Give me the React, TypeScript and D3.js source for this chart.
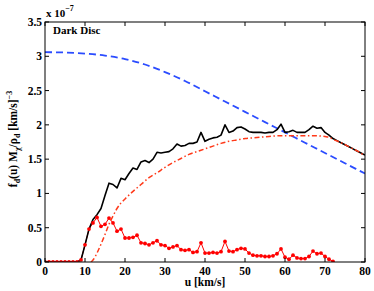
import React from 'react';
import * as d3 from 'd3';

// blue dashed curve, read every 5 km/s
const blueU = [0, 5, 10, 15, 20, 25, 30, 35, 40, 45, 50, 55, 60, 65, 70, 75, 80];
const blueF = [3.06, 3.055, 3.04, 3.01, 2.96, 2.88, 2.77, 2.64, 2.49, 2.34, 2.19, 2.04, 1.89, 1.74, 1.59, 1.44, 1.29];

// red dash-dot curve
const dashU = [11.5, 12, 13, 14, 15, 16, 17, 18, 19, 20, 22, 24, 26, 28, 30, 32, 34, 36, 38, 40, 42, 44, 46, 48, 50, 52, 54, 56, 58, 60, 62, 64, 66, 68, 70, 71, 72, 74, 76, 78, 80];
const dashF = [0, 0.03, 0.13, 0.26, 0.4, 0.55, 0.67, 0.78, 0.86, 0.92, 1.03, 1.13, 1.23, 1.3, 1.38, 1.45, 1.51, 1.57, 1.61, 1.65, 1.69, 1.73, 1.76, 1.78, 1.8, 1.81, 1.82, 1.83, 1.84, 1.84, 1.84, 1.84, 1.84, 1.84, 1.83, 1.82, 1.79, 1.74, 1.68, 1.62, 1.55];

// red dotted histogram, one value per km/s from 0
const redF = [0, 0, 0, 0, 0, 0, 0, 0, 0, 0.03, 0.25, 0.48, 0.57, 0.65, 0.52, 0.55, 0.64, 0.57, 0.45, 0.48,
  0.35, 0.35, 0.36, 0.39, 0.28, 0.27, 0.25, 0.28, 0.31, 0.25, 0.24, 0.2, 0.22, 0.24, 0.18, 0.17, 0.18, 0.14, 0.15, 0.28,
  0.13, 0.13, 0.14, 0.13, 0.15, 0.3, 0.16, 0.15, 0.18, 0.2, 0.19, 0.13, 0.1, 0.09, 0.09, 0.08, 0.08, 0.09, 0.12, 0.19,
  0.07, 0.04, 0.1, 0.06, 0.05, 0.05, 0.08, 0.16, 0.12, 0.13, 0.08, 0.04, 0.01];

// black total, one value per km/s from 0
const blackF = [0, 0, 0, 0, 0, 0, 0, 0, 0, 0.03, 0.25, 0.48, 0.62, 0.69, 0.78, 0.97, 1.15, 1.13, 1.08, 1.22,
  1.2, 1.29, 1.37, 1.35, 1.46, 1.48, 1.45, 1.5, 1.6, 1.59, 1.6, 1.61, 1.65, 1.72, 1.69, 1.7, 1.73, 1.73, 1.75, 1.89,
  1.76, 1.79, 1.81, 1.82, 1.85, 2.0, 1.89, 1.91, 1.96, 1.97, 1.94, 1.9, 1.89, 1.89, 1.89, 1.88, 1.89, 1.89, 1.93, 2.01,
  1.89, 1.9, 1.92, 1.89, 1.89, 1.89, 1.93, 1.98, 1.95, 1.96, 1.89, 1.85, 1.8, 1.77, 1.74, 1.71, 1.68, 1.65, 1.62, 1.59, 1.56];

const xTicks = [0, 10, 20, 30, 40, 50, 60, 70, 80];
const yTicks = [0, 0.5, 1, 1.5, 2, 2.5, 3, 3.5];
const yTickLabels = ['0', '0.5', '1', '1.5', '2', '2.5', '3', '3.5'];

const W = 374;
const H = 291;
const left = 45, right = 365, top = 22, bottom = 262;
const font = '"Liberation Serif", "Times New Roman", serif';

export default function App() {
  const x = d3.scaleLinear().domain([0, 80]).range([left, right]);
  const y = d3.scaleLinear().domain([0, 3.5]).range([bottom, top]);

  const pts = (us: number[], fs: number[]) => us.map((u, i) => [u, fs[i]] as [number, number]);
  const byIndex = (fs: number[]) => fs.map((f, i) => [i, f] as [number, number]);

  const smooth = d3.line<[number, number]>().x(d => x(d[0])).y(d => y(d[1])).curve(d3.curveMonotoneX);
  const straight = d3.line<[number, number]>().x(d => x(d[0])).y(d => y(d[1]));

  const red = byIndex(redF);
  const black = byIndex(blackF);

  return (
    <svg width={W} height={H} style={{ position: 'absolute', left: 0, top: 0, background: '#fff' }} fontFamily={font} fontWeight="bold">
      <rect x={0} y={0} width={W} height={H} fill="#fff" />
      <defs>
        <clipPath id="plot">
          <rect x={left} y={top} width={right - left} height={bottom - top} />
        </clipPath>
      </defs>

      <g clipPath="url(#plot)">
        <path d={smooth(pts(blueU, blueF)) || ''} fill="none" stroke="#2b4cff" strokeWidth={1.8} strokeDasharray="7,4" />
        <path d={straight(red) || ''} fill="none" stroke="#ff0000" strokeWidth={1} />
        <path d={straight(black) || ''} fill="none" stroke="#000" strokeWidth={1.6} strokeLinejoin="round" />
        {red.map((d, i) => (
          <circle key={i} cx={x(d[0])} cy={y(d[1])} r={1.9} fill="#ff0000" />
        ))}
        <path d={smooth(pts(dashU, dashF)) || ''} fill="none" stroke="#ff3a1a" strokeWidth={1.5} strokeDasharray="5,2.5,1.5,2.5" />
      </g>

      {/* axes box and inward ticks */}
      <rect x={left} y={top} width={right - left} height={bottom - top} fill="none" stroke="#000" strokeWidth={1} />
      {xTicks.map(t => (
        <g key={'x' + t}>
          <line x1={x(t)} x2={x(t)} y1={bottom} y2={bottom - 4} stroke="#000" />
          <line x1={x(t)} x2={x(t)} y1={top} y2={top + 4} stroke="#000" />
          <text x={x(t)} y={275} textAnchor="middle" fontSize={11.5}>{t}</text>
        </g>
      ))}
      {yTicks.map((t, i) => (
        <g key={'y' + t}>
          <line x1={left} x2={left + 4} y1={y(t)} y2={y(t)} stroke="#000" />
          <line x1={right} x2={right - 4} y1={y(t)} y2={y(t)} stroke="#000" />
          <text x={42} y={y(t) + 4} textAnchor="end" fontSize={11.5}>{yTickLabels[i]}</text>
        </g>
      ))}

      <text x={46} y={17} fontSize={11}>x 10<tspan dy={-6} fontSize={8}>−7</tspan></text>
      <text x={53} y={34} fontSize={11}>Dark Disc</text>

      <text x={205} y={286} textAnchor="middle" fontSize={11.5}>u [km/s]</text>

      <text transform="translate(17,139) rotate(-90)" textAnchor="middle" fontSize={11.5}>
        f<tspan dy={3} fontSize={8}>d</tspan>
        <tspan dy={-3}>(u) M</tspan>
        <tspan dy={3} fontSize={8}>χ</tspan>
        <tspan dy={-3}>/ρ</tspan>
        <tspan dy={3} fontSize={8}>d</tspan>
        <tspan dy={-3}> [km/s]</tspan>
        <tspan dy={-5} fontSize={8}>−3</tspan>
      </text>
    </svg>
  );
}
